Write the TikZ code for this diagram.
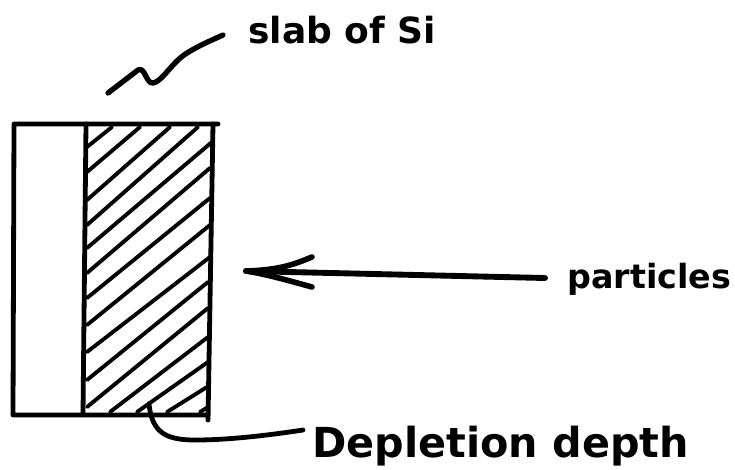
\documentclass[tikz,border=0pt]{standalone}
\usepackage{fontspec}
\setmainfont{DejaVu Sans}
\tikzset{ink/.style={line width=3.6pt,line cap=round,line join=round,black},
hatch/.style={line width=2.9pt,line cap=round,black},
lab/.style={inner sep=0pt,anchor=base west,text=black,font=\bfseries}}
\begin{document}
\begin{tikzpicture}[x=0.75pt,y=-0.75pt]
\useasboundingbox (0,0) rectangle (735,469);
\fill[white] (0,0) rectangle (735,469);
\foreach \a/\b/\c/\d in {87/147/112/127,87/172/140/127,87/200/170/127,87/225/198/127,87/248/212/142,87/273/210/168,87/298/210/198,87/325/210/225,87/352/210/257,87/380/208/282,87/407/208/308,110/412/208/337,137/412/208/362,167/412/207/387,200/412/208/407}
 \draw[hatch] (\a,\b) -- (\c,\d);
\draw[ink] (218,124) -- (14,124) -- (13,415) -- (208,415);
\draw[ink] (86,124) -- (83,414);
\draw[ink] (213,124) -- (208,420);
\coordinate (s1) at (108,93);
\coordinate (s2) at (223,35);
\draw[ink,line width=4pt] (s1) -- (138,70) .. controls (145,66) and (146,84) .. (153,83) .. controls (162,82) and (172,62) .. (187,53) .. controls (198,46) and (212,40) .. (s2);
\node[lab,font=\bfseries\fontsize{27}{30}\selectfont] (t1) at (248,43) {slab of Si};
\node[lab,font=\bfseries\fontsize{25}{30}\selectfont] (t2) at (567,288) {particles};
\node[lab,font=\bfseries\fontsize{31}{36}\selectfont] (t3) at (312,457) {Depletion depth};
\coordinate (a) at (246,271);
\coordinate (ae) at (545,278);
\coordinate (a1) at (312,257);
\coordinate (a2) at (312,287);
\draw[ink,line width=4.4pt] (ae) -- (a);
\draw[ink,line width=4.2pt] (a1) .. controls (295,264) and (280,270) .. (a) .. controls (270,275) and (290,281) .. (a2);
\coordinate (d) at (149,404);
\coordinate (e) at (303,430);
\draw[ink] (d) .. controls (152,432) and (165,440) .. (195,440) .. controls (230,440) and (270,435) .. (e);
\end{tikzpicture}
\end{document}
